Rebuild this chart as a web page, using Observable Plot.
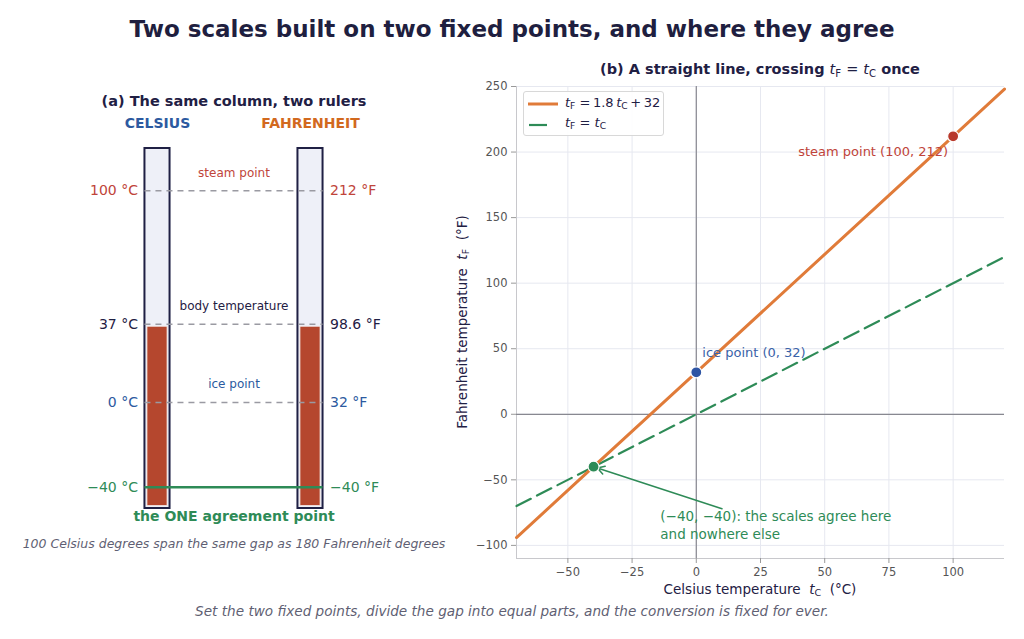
<!DOCTYPE html>
<html>
<head>
<meta charset="utf-8">
<script src="https://cdn.jsdelivr.net/npm/d3@7"></script>
<script src="https://cdn.jsdelivr.net/npm/@observablehq/plot@0.6"></script>
<style>
  html, body { margin: 0; padding: 0; background: #fff; }
  #root { position: relative; width: 1024px; height: 639px; font-family: "DejaVu Sans", sans-serif; color: #1f2044; overflow: hidden; }
  .abs { position: absolute; }
  sub { font-size: 0.7em; vertical-align: -0.25em; line-height: 0; }
</style>
</head>
<body>
<div id="root">
  <div class="abs" style="left:0;width:1024px;top:16px;text-align:center;font-size:23px;font-weight:bold;color:#1f1f40;">Two scales built on two fixed points, and where they agree</div>
  <div id="left" class="abs" style="left:4px;top:80px;"></div>
  <div id="right" class="abs" style="left:450px;top:55px;"></div>
  <div class="abs" style="left:516px;width:488px;top:61px;text-align:center;font-size:14.5px;font-weight:bold;color:#1f2044;">(b) A straight line, crossing <i style="font-weight:normal">t</i><sub style="font-weight:normal">F</sub> <span style="font-weight:normal">=</span> <i style="font-weight:normal">t</i><sub style="font-weight:normal">C</sub> once</div>
  <div class="abs" style="left:516px;width:488px;top:581px;text-align:center;font-size:13.5px;color:#1f2044;">Celsius temperature&nbsp; <i>t</i><sub>C</sub>&nbsp; (°C)</div>
  <div class="abs" style="left:462px;top:322px;width:0;height:0;">
    <div style="position:absolute;transform:translate(-50%,-50%) rotate(-90deg);white-space:nowrap;font-size:13.5px;color:#1f2044;">Fahrenheit temperature&nbsp; <i>t</i><sub>F</sub>&nbsp; (°F)</div>
  </div>
  <div class="abs" style="left:523px;top:91px;width:139px;height:43px;border:1px solid #d8d8d8;border-radius:3px;background:rgba(255,255,255,0.9);font-size:13px;color:#1f2044;">
    <svg class="abs" style="left:3px;top:5px;" width="32" height="34">
      <line x1="1" x2="31" y1="7" y2="7" stroke="#e07b39" stroke-width="3"></line>
      <line x1="2" x2="20" y1="28" y2="28" stroke="#2e8b57" stroke-width="2.2"></line>
    </svg>
    <div class="abs" style="left:41px;top:3px;white-space:nowrap;"><i>t</i><sub>F</sub> =&thinsp;1.8&thinsp;<i>t</i><sub>C</sub>&thinsp;+&thinsp;32</div>
    <div class="abs" style="left:41px;top:23px;white-space:nowrap;"><i>t</i><sub>F</sub> = <i>t</i><sub>C</sub></div>
  </div>
  <div class="abs" style="left:0;width:1024px;top:603px;text-align:center;font-size:13.6px;font-style:italic;color:#5f5f73;">Set the two fixed points, divide the gap into equal parts, and the conversion is fixed for ever.</div>
</div>
<script>
// ---------- data: panel (a) ----------
const columns = ["CELSIUS", "FAHRENHEIT"];
const columnColors = ["#2c5aa0", "#d2691e"];
const levelC = [100, 37, 0, -40];
const levelF = [212, 98.6, 32, -40];
const levelNames = ["steam point", "body temperature", "ice point", "the ONE agreement point"];
const levelColors = ["#c0443a", "#1f2044", "#2c5aa0", "#2e8b57"];
const tubeRange = [-50, 120];
const bodyReading = 37;
const captionA = "100 Celsius degrees span the same gap as 180 Fahrenheit degrees";

// ---------- data: panel (b) ----------
const tC = [-70, -40, 0, 100, 120];
const tF = [-94, -40, 32, 212, 248];
const idC = [-70, 120];
const idF = [-70, 120];
const pointNames = ["steam point (100, 212)", "ice point (0, 32)", "(−40, −40): the scales agree here\nand nowhere else"];
const pointC = [100, 0, -40];
const pointF = [212, 32, -40];
const pointColors = ["#b8392b", "#2f55a4", "#2e8b57"];
const labelColors = ["#c0443a", "#3a62a8", "#2e8b57"];
const labelC = [100, 0, -14];
const labelF = [212, 32, -79];
const arrowFrom = [10, -72];
const xTicks = [-50, -25, 0, 25, 50, 75, 100];
const yTicks = [-100, -50, 0, 50, 100, 150, 200, 250];
const xDomain = [-70, 120];
const yDomain = [-110, 250];

const minus = s => String(s).replace(/-/g, "−");

// ---------- panel (a) ----------
const hw = 0.082;
const cols = columns.map((name, i) => ({name, i, color: columnColors[i]}));
const levels = levelC.map((c, k) => ({c, f: levelF[k], name: levelNames[k], color: levelColors[k]}));
const dashed = levels.slice(0, 3);
const agree = levels.slice(3);

const left = Plot.plot({
  width: 459, height: 480,
  marginLeft: 0, marginRight: 0, marginTop: 68, marginBottom: 52,
  x: {domain: [-1, 2], axis: null},
  y: {domain: tubeRange, axis: null},
  style: {fontFamily: "DejaVu Sans", fontSize: "14px", background: "transparent"},
  marks: [
    Plot.rect(cols, {x1: d => d.i - hw, x2: d => d.i + hw, y1: tubeRange[0], y2: tubeRange[1], fill: "#eef0f8", stroke: "#1f2044", strokeWidth: 2}),
    Plot.rect(cols, {x1: d => d.i - hw, x2: d => d.i + hw, y1: tubeRange[0], y2: bodyReading, inset: 2.5, fill: "#b5472e", stroke: "#f4e8e6", strokeWidth: 0.8}),
    Plot.ruleY(dashed, {y: "c", x1: -hw, x2: 1 + hw, stroke: "#9a9aa2", strokeWidth: 1.5, strokeDasharray: "6,5"}),
    Plot.ruleY(agree, {y: "c", x1: -hw, x2: 1 + hw, stroke: "#2e8b57", strokeWidth: 2.6}),
    Plot.text(levels, {x: -hw, y: "c", text: d => minus(d.c) + " °C", textAnchor: "end", dx: -7, fill: "color", fontSize: 14}),
    Plot.text(levels, {x: 1 + hw, y: "c", text: d => minus(d.f) + " °F", textAnchor: "start", dx: 7, fill: "color", fontSize: 14}),
    Plot.text(dashed, {x: 0.5, y: "c", text: "name", dy: -18, fill: "color", fontSize: 12}),
    Plot.text(agree, {x: 0.5, y: "c", text: "name", dy: 29, fill: "color", fontSize: 14, fontWeight: "bold"}),
    Plot.text(cols, {x: "i", y: tubeRange[1], text: "name", dy: -25, fill: "color", fontSize: 14, fontWeight: "bold"}),
    Plot.text(["(a) The same column, two rulers"], {x: 0.5, frameAnchor: "top", dy: -43, lineAnchor: "bottom", text: d => d, fill: "#1f2044", fontSize: 14.5, fontWeight: "bold"}),
    Plot.text([captionA], {x: 0.5, y: tubeRange[0], text: d => d, dy: 35, fill: "#5f5f73", fontSize: 12.5, fontStyle: "italic"})
  ]
});
document.getElementById("left").appendChild(left);

// ---------- panel (b) ----------
const conv = tC.map((c, i) => ({c, f: tF[i]}));
const ident = idC.map((c, i) => ({c, f: idF[i]}));
const pts = pointC.map((c, i) => ({c, f: pointF[i], color: pointColors[i]}));
const labels = pointNames.map((t, i) => ({t, c: labelC[i], f: labelF[i], color: labelColors[i]}));

const right = Plot.plot({
  width: 574, height: 545,
  marginLeft: 66, marginRight: 20, marginTop: 31, marginBottom: 42,
  x: {domain: xDomain},
  y: {domain: yDomain},
  style: {fontFamily: "DejaVu Sans", fontSize: "11.5px", background: "transparent"},
  marks: [
    Plot.gridX(xTicks, {stroke: "#e6e8f0", strokeOpacity: 1, strokeWidth: 1}),
    Plot.gridY(yTicks, {stroke: "#e6e8f0", strokeOpacity: 1, strokeWidth: 1}),
    Plot.ruleX([xDomain[0]], {stroke: "#c8c8cc", strokeWidth: 1}),
    Plot.ruleY([yDomain[0]], {stroke: "#c8c8cc", strokeWidth: 1}),
    Plot.ruleX([0], {stroke: "#888890", strokeWidth: 1.2}),
    Plot.ruleY([0], {stroke: "#888890", strokeWidth: 1.2}),
    Plot.axisX({ticks: xTicks, tickSize: 5, tickPadding: 4, stroke: "#999", fill: "#555", label: null, fontSize: 11.5, tickFormat: d => minus(d)}),
    Plot.axisY({ticks: yTicks, tickSize: 5, tickPadding: 4, stroke: "#999", fill: "#555", label: null, fontSize: 11.5, tickFormat: d => minus(d)}),
    Plot.line(ident, {x: "c", y: "f", stroke: "#2e8b57", strokeWidth: 2.2, strokeDasharray: "16,7"}),
    Plot.line(conv, {x: "c", y: "f", stroke: "#e07b39", strokeWidth: 3}),
    Plot.arrow([{x1: arrowFrom[0], y1: arrowFrom[1], x2: pointC[2], y2: pointF[2]}], {x1: "x1", y1: "y1", x2: "x2", y2: "y2", stroke: "#2e8b57", strokeWidth: 1.5, insetEnd: 4, headLength: 8}),
    Plot.dot(pts, {x: "c", y: "f", fill: "color", r: 5.5, stroke: "white", strokeWidth: 1.2}),
    Plot.text(labels.slice(0, 1), {x: "c", y: "f", text: "t", fill: "color", textAnchor: "end", dx: -5, dy: 16, fontSize: 13}),
    Plot.text(labels.slice(1, 2), {x: "c", y: "f", text: "t", fill: "color", textAnchor: "start", dx: 6, dy: -19, fontSize: 13}),
    Plot.text(labels.slice(2), {x: "c", y: "f", text: "t", fill: "color", textAnchor: "start", lineAnchor: "top", dy: -10, lineHeight: 1.35, fontSize: 13.5})
  ]
});
document.getElementById("right").appendChild(right);
</script>
</body>
</html>
